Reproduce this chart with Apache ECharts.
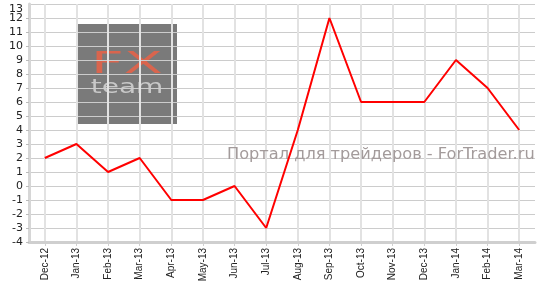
<!DOCTYPE html>
<html><head><meta charset="utf-8">
<script src="https://cdn.jsdelivr.net/npm/echarts@6/dist/echarts.min.js"></script>
<style>html,body{margin:0;padding:0;background:#fff}#c{width:543px;height:287px}</style>
</head><body><div id="c"></div>
<script>
const categories = ['Dec-12','Jan-13','Feb-13','Mar-13','Apr-13','May-13','Jun-13','Jul-13','Aug-13','Sep-13','Oct-13','Nov-13','Dec-13','Jan-14','Feb-14','Mar-14'];
const values = [2, 3, 1, 2, -1, -1, 0, -3, 4, 12, 6, 6, 6, 9, 7, 4];
const yMin = -4, yMax = 13, yStep = 1;

const labelFont = {fontFamily: 'DejaVu Sans', fontSize: 11, color: '#222', margin: 6};
const chart = echarts.init(document.getElementById('c'), null, {renderer: 'canvas'});
chart.setOption({
  animation: false,
  backgroundColor: '#fff',
  grid: {left: 29, right: 8, top: 4, bottom: 45, containLabel: false, outerBoundsMode: 'none'},
  xAxis: {
    type: 'category', data: categories, boundaryGap: true,
    axisLine: {onZero: false, lineStyle: {color: '#cfcfcf', width: 3}},
    axisTick: {show: true, alignWithLabel: true, length: 4, lineStyle: {color: '#cfcfcf'}},
    axisLabel: {rotate: 90, interval: 0, fontFamily: 'Liberation Sans', fontSize: 10, color: '#222', margin: 6},
    splitLine: {show: true, alignWithLabel: true, lineStyle: {color: '#e2e2e2', width: 2}}
  },
  yAxis: [{
    type: 'value', min: yMin, max: yMax, interval: yStep, position: 'left',
    axisLine: {show: true, lineStyle: {color: '#d6d6d6', width: 3}},
    axisTick: {show: true, length: 3, lineStyle: {color: '#bbb'}},
    axisLabel: Object.assign({showMaxLabel: false, formatter: v => v === yMax ? '' : String(v)}, labelFont),
    splitLine: {show: true, lineStyle: {color: '#cccccc', width: 1}}
  }, {
    type: 'value', min: yMin, max: yMax, interval: yStep, position: 'left', offset: 0,
    axisLine: {show: false}, axisTick: {show: false}, splitLine: {show: false},
    axisLabel: Object.assign({showMaxLabel: true, verticalAlignMaxLabel: 'top', formatter: v => v === yMax ? String(v) : ''}, labelFont)
  }],
  graphic: [
    {type: 'rect', z: -10, shape: {x: 78, y: 24, width: 99, height: 100}, style: {fill: '#7a7a7a'}},
    {type: 'text', z: -9, x: 127, y: 65, scaleX: 1.9, style: {text: 'FX', font: '30px "DejaVu Sans"', fill: '#d9654e', align: 'center', verticalAlign: 'middle'}},
    {type: 'text', z: -9, x: 127, y: 88, scaleX: 1.4, style: {text: 'team', font: '20px "DejaVu Sans"', fill: '#c8c8c8', align: 'center', verticalAlign: 'middle'}},
    {type: 'text', z: 3, x: 227, y: 155, style: {text: 'Портал для трейдеров - ForTrader.ru', font: '16.2px "DejaVu Sans"', fill: '#a39b9b', align: 'left', verticalAlign: 'middle'}}
  ],
  series: [{
    type: 'line', data: values, showSymbol: false, symbol: 'none', z: 5,
    lineStyle: {color: '#ff0000', width: 2}
  }]
});
</script></body></html>
